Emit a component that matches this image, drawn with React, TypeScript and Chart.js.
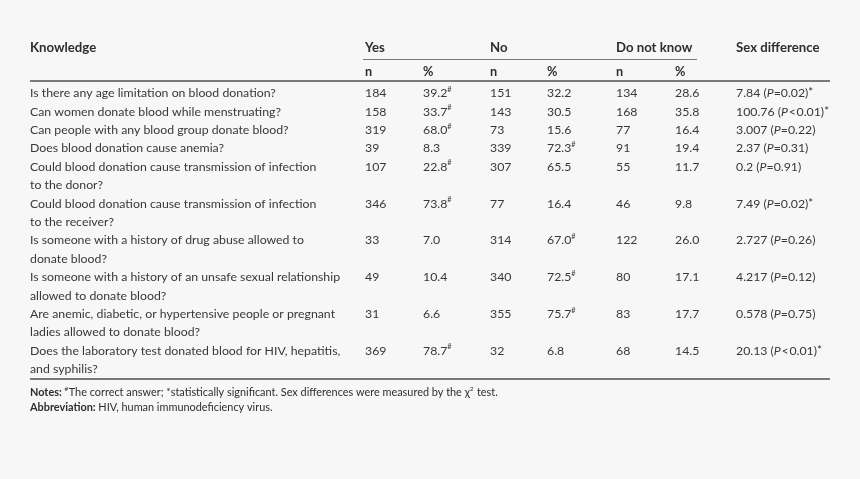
import React, { useEffect, useRef } from "react";
import { Chart, registerables } from "chart.js";
Chart.register(...registerables);

// ---------- DATA ----------
const groupHeaders = ["Yes", "No", "Do not know"];
const subHeaders = ["n", "%"];
const questions: string[][] = [
  ["Is there any age limitation on blood donation?"],
  ["Can women donate blood while menstruating?"],
  ["Can people with any blood group donate blood?"],
  ["Does blood donation cause anemia?"],
  ["Could blood donation cause transmission of infection", "to the donor?"],
  ["Could blood donation cause transmission of infection", "to the receiver?"],
  ["Is someone with a history of drug abuse allowed to", "donate blood?"],
  ["Is someone with a history of an unsafe sexual relationship", "allowed to donate blood?"],
  ["Are anemic, diabetic, or hypertensive people or pregnant", "ladies allowed to donate blood?"],
  ["Does the laboratory test donated blood for HIV, hepatitis,", "and syphilis?"],
];
const yesN = [184, 158, 319, 39, 107, 346, 33, 49, 31, 369];
const yesPct = [39.2, 33.7, 68.0, 8.3, 22.8, 73.8, 7.0, 10.4, 6.6, 78.7];
const noN = [151, 143, 73, 339, 307, 77, 314, 340, 355, 32];
const noPct = [32.2, 30.5, 15.6, 72.3, 65.5, 16.4, 67.0, 72.5, 75.7, 6.8];
const dkN = [134, 168, 77, 91, 55, 46, 122, 80, 83, 68];
const dkPct = [28.6, 35.8, 16.4, 19.4, 11.7, 9.8, 26.0, 17.1, 17.7, 14.5];
const correctAnswer = ["Yes", "Yes", "Yes", "No", "Yes", "Yes", "No", "No", "No", "Yes"];
const chiSq = ["7.84", "100.76", "3.007", "2.37", "0.2", "7.49", "2.727", "4.217", "0.578", "20.13"];
const pOp = ["=", "<", "=", "=", "=", "=", "=", "=", "=", "<"];
const pVal = ["0.02", "0.01", "0.22", "0.31", "0.91", "0.02", "0.26", "0.12", "0.75", "0.01"];
const significant = [true, true, false, false, false, true, false, false, false, true];

// ---------- LAYOUT ----------
const W = 860;
const H = 479;
const FONT = "Lato";
const TEXT = "#383838";
const HEAD = "#2e2e2e";
const RULE = "#7a7a7a";
const BG = "#f7f7f7";
const FS = 12.3;
const HFS = 13.2;
const NF = 10.9;
const colX = { q: 30, yesN: 365, yesPct: 423, noN: 490, noPct: 547, dkN: 616, dkPct: 675, sex: 736 };
const LINE0 = 93.3; // pixel of first body line
const STEP = 18.4; // pixel per line
const yPos = { header: -2.46, sub: -1.17, groupRule: -1.85, topRule: -0.67, bottomRule: 15.54, notes: 16.27, abbr: 17.07 };
const groupRuleX = [363, 697];
const ruleX = [30, 830];

// row starting line derived from question line counts
const rowStart: number[] = [];
questions.reduce((acc, q) => {
  rowStart.push(acc);
  return acc + q.length;
}, 0);

type Seg = { t: string; b?: boolean; i?: boolean; sup?: boolean; star?: boolean; size?: number };

const pctCell = (v: number, i: number, group: string): Seg[] => {
  const s: Seg[] = [{ t: v.toFixed(1) }];
  if (correctAnswer[i] === group) s.push({ t: "#", sup: true });
  return s;
};

const columns: { key: keyof typeof colX; cells: Seg[][][] }[] = [
  { key: "q", cells: questions.map((q) => q.map((l) => [{ t: l }])) },
  { key: "yesN", cells: yesN.map((v) => [[{ t: String(v) }]]) },
  { key: "yesPct", cells: yesPct.map((v, i) => [pctCell(v, i, "Yes")]) },
  { key: "noN", cells: noN.map((v) => [[{ t: String(v) }]]) },
  { key: "noPct", cells: noPct.map((v, i) => [pctCell(v, i, "No")]) },
  { key: "dkN", cells: dkN.map((v) => [[{ t: String(v) }]]) },
  { key: "dkPct", cells: dkPct.map((v, i) => [pctCell(v, i, "Do not know")]) },
  {
    key: "sex",
    cells: chiSq.map((c, i) => {
      const op = pOp[i] === "<" ? "\u200a<\u200a" : pOp[i];
      const s: Seg[] = [{ t: c + " (" }, { t: "P", i: true }, { t: op + pVal[i] + ")" }];
      if (significant[i]) s.push({ t: "*", star: true });
      return [s];
    }),
  },
];

function drawSegs(ctx: CanvasRenderingContext2D, segs: Seg[], x: number, y: number, base: number) {
  let cx = x;
  for (const s of segs) {
    const size = s.sup ? base * 0.6 : s.star ? base * 0.95 : s.size || base;
    ctx.font = `${s.i ? "italic " : ""}${s.b ? "bold " : ""}${size}px ${FONT}`;
    const dy = s.sup ? -base * 0.32 : s.star ? -base * 0.05 : 0;
    ctx.fillText(s.t, cx, y + dy);
    cx += ctx.measureText(s.t).width + (s.sup ? 0.5 : 0);
  }
}

const tablePlugin = {
  id: "tableText",
  afterDatasetsDraw(chart: any) {
    const ctx: CanvasRenderingContext2D = chart.ctx;
    const xs = chart.scales.x;
    const ys = chart.scales.y;
    const px = (v: number) => xs.getPixelForValue(v);
    const py = (v: number) => ys.getPixelForValue(v);
    ctx.save();
    ctx.textBaseline = "middle";
    ctx.textAlign = "left";

    // headers
    ctx.fillStyle = HEAD;
    drawSegs(ctx, [{ t: "Knowledge", b: true }], px(colX.q), py(yPos.header), HFS);
    const gx = [colX.yesN, colX.noN, colX.dkN];
    groupHeaders.forEach((g, i) => drawSegs(ctx, [{ t: g, b: true }], px(gx[i]), py(yPos.header), HFS));
    drawSegs(ctx, [{ t: "Sex difference", b: true }], px(colX.sex), py(yPos.header), HFS);
    const sx = [colX.yesN, colX.yesPct, colX.noN, colX.noPct, colX.dkN, colX.dkPct];
    sx.forEach((x, i) => drawSegs(ctx, [{ t: subHeaders[i % 2], b: true }], px(x), py(yPos.sub), HFS - 0.5));

    // rules
    ctx.strokeStyle = RULE;
    ctx.lineWidth = 1;
    ctx.beginPath();
    ctx.moveTo(px(groupRuleX[0]), Math.round(py(yPos.groupRule)) + 0.5);
    ctx.lineTo(px(groupRuleX[1]), Math.round(py(yPos.groupRule)) + 0.5);
    ctx.stroke();
    ctx.lineWidth = 2;
    [yPos.topRule, yPos.bottomRule].forEach((yv) => {
      ctx.beginPath();
      ctx.moveTo(px(ruleX[0]), Math.round(py(yv)));
      ctx.lineTo(px(ruleX[1]), Math.round(py(yv)));
      ctx.stroke();
    });

    // body cells from dataset elements
    ctx.fillStyle = TEXT;
    chart.data.datasets.forEach((ds: any, di: number) => {
      const meta = chart.getDatasetMeta(di);
      const col = columns[di];
      meta.data.forEach((el: any, i: number) => {
        const lines = col.cells[i];
        lines.forEach((segs, li) => {
          const y = li === 0 ? el.y : py(rowStart[i] + li);
          drawSegs(ctx, segs, el.x, y, FS);
        });
      });
    });

    // notes
    ctx.fillStyle = HEAD;
    drawSegs(
      ctx,
      [
        { t: "Notes: ", b: true, size: NF },
        { t: "#", sup: true },
        { t: "The correct answer; ", size: NF },
        { t: "*", star: true },
        { t: "statistically significant. Sex differences were measured by the ", size: NF },
        { t: "\u03c7", size: NF },
        { t: "2", sup: true },
        { t: " test.", size: NF },
      ],
      px(colX.q),
      py(yPos.notes),
      NF
    );
    drawSegs(
      ctx,
      [
        { t: "Abbreviation: ", b: true, size: NF },
        { t: "HIV, human immunodeficiency virus.", size: NF },
      ],
      px(colX.q),
      py(yPos.abbr),
      NF
    );
    ctx.restore();
  },
};

export default function App() {
  const ref = useRef<HTMLCanvasElement>(null);
  useEffect(() => {
    if (!ref.current) return;
    const chart = new Chart(ref.current, {
      type: "scatter",
      data: {
        datasets: columns.map((c) => ({
          label: c.key,
          data: c.cells.map((_, i) => ({ x: colX[c.key], y: rowStart[i] })),
          pointRadius: 0,
          pointHoverRadius: 0,
          showLine: false,
        })),
      },
      options: {
        responsive: false,
        animation: false,
        events: [],
        layout: { padding: 0 },
        plugins: { legend: { display: false }, tooltip: { enabled: false } },
        scales: {
          x: { type: "linear", min: 0, max: W, display: false },
          y: {
            type: "linear",
            reverse: true,
            min: -LINE0 / STEP,
            max: (H - LINE0) / STEP,
            display: false,
          },
        },
      },
      plugins: [tablePlugin],
    });
    return () => chart.destroy();
  }, []);
  return (
    <div style={{ position: "absolute", left: 0, top: 0, width: W, height: H, background: BG }}>
      <canvas ref={ref} width={W} height={H} style={{ display: "block" }} />
    </div>
  );
}
